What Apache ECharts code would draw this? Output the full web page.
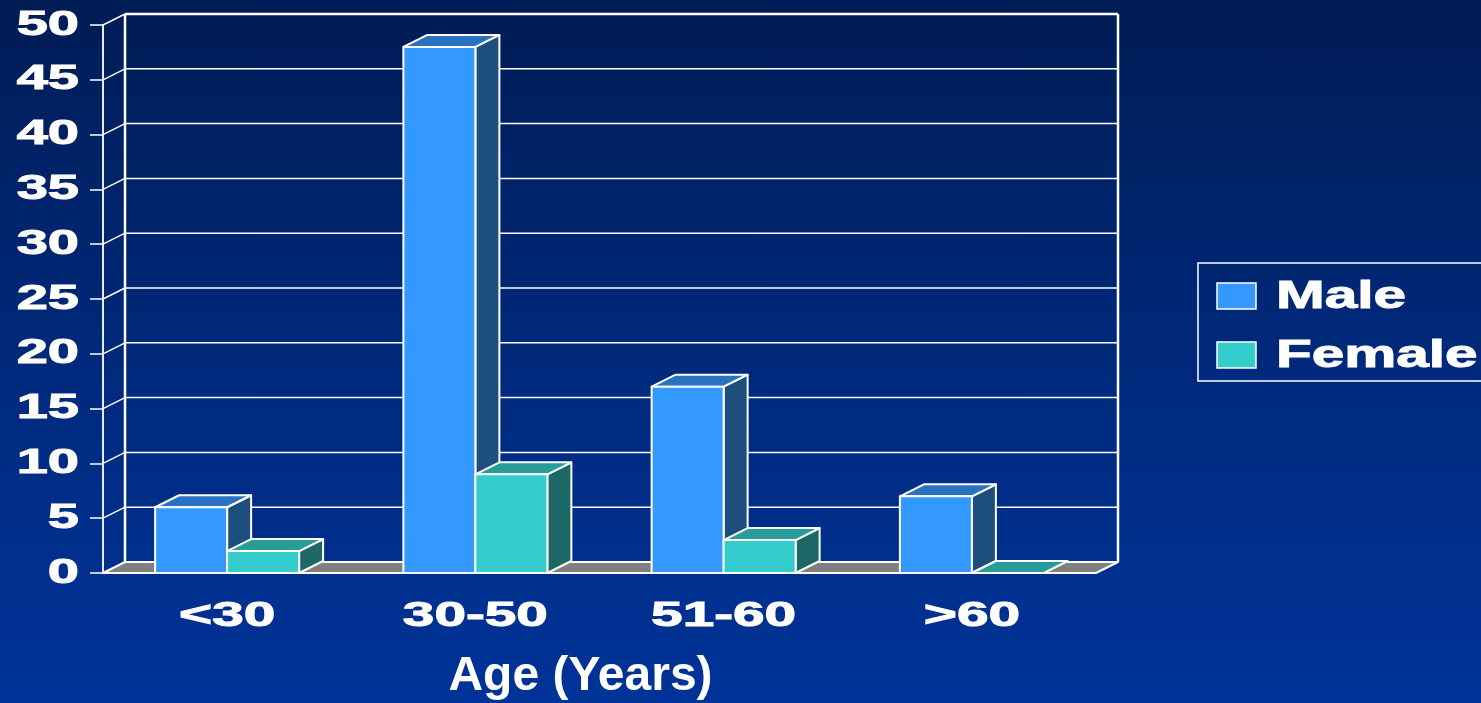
<!DOCTYPE html>
<html>
<head>
<meta charset="utf-8">
<script src="https://cdn.jsdelivr.net/npm/echarts@6/dist/echarts.min.js"></script>
<style>
  html, body { margin: 0; padding: 0; }
  body { background: linear-gradient(to bottom, #001c55 0%, #002a7e 55%, #003399 100%); }
  #chart { width: 1481px; height: 703px; }
</style>
</head>
<body>
<div id="chart"></div>
<script>
var categories = ['<30', '30-50', '51-60', '>60']
var male = [6, 48, 17, 7]
var female = [2, 9, 3, 0]
var yTicks = [0, 5, 10, 15, 20, 25, 30, 35, 40, 45, 50]
var seriesNames = ['Male', 'Female']

// 3d look: depth offset of the walls and of the bars (pixels)
var DX = 22, DY = -11
var BDX = 24, BDY = -12
var FF = '"Liberation Sans", Arial, sans-serif'

var faces = {
  Male: { front: '#3399ff', top: '#2a72c0', side: '#1e4e7e' },
  Female: { front: '#33cccc', top: '#279c98', side: '#1c6866' }
}
var edge = { stroke: '#ffffff', lineWidth: 2, lineJoin: 'round' }

// white text, a bit heavier than plain bold
function txt(s, size, align) {
  return {
    text: s,
    font: 'bold ' + size + 'px ' + FF,
    fill: '#ffffff',
    stroke: '#ffffff',
    lineWidth: 1,
    align: align,
    verticalAlign: 'middle'
  }
}

function wallItem(params, api) {
  var cs = params.coordSys
  var L = cs.x, R = cs.x + cs.width
  var v = api.value(1)
  var y = api.coord([0, v])[1]
  var y0 = api.coord([0, 0])[1]
  var kids = []
  if (v === 0) {
    kids.push({
      type: 'polygon',
      shape: { points: [[L, y], [R, y], [R + DX, y + DY], [L + DX, y + DY]] },
      style: Object.assign({ fill: '#808080' }, edge)
    })
  } else {
    kids.push({
      type: 'line',
      shape: { x1: L + DX, y1: y + DY, x2: R + DX, y2: y + DY },
      style: { stroke: '#ffffff', lineWidth: v === 50 ? 2.5 : 1.5 }
    })
    kids.push({
      type: 'line',
      shape: { x1: L, y1: y, x2: L + DX, y2: y + DY },
      style: { stroke: '#ffffff', lineWidth: 1.5 }
    })
  }
  if (v === 50) {
    kids.push({
      type: 'line',
      shape: { x1: L + DX, y1: y + DY, x2: L + DX, y2: y0 + DY },
      style: { stroke: '#ffffff', lineWidth: 2.5 }
    })
    kids.push({
      type: 'line',
      shape: { x1: R + DX, y1: y + DY, x2: R + DX, y2: y0 + DY },
      style: { stroke: '#ffffff', lineWidth: 2.5 }
    })
  }
  // tick label, stretched like the original slide
  kids.push({
    type: 'text',
    x: L - 24,
    y: y,
    scaleX: 1.6,
    style: txt(String(v), 35, 'right')
  })
  return { type: 'group', children: kids }
}

function barItem(name, offset) {
  return function (params, api) {
    var i = api.value(0), v = api.value(1)
    var base = api.coord([i, 0])
    var top = api.coord([i, v])
    var w = api.size([1, 0])[0] * 0.29
    var x0 = base[0] + offset * w, x1 = x0 + w
    var yb = base[1], yt = top[1]
    var c = faces[name]
    var kids = []
    if (v > 0) {
      kids.push({
        type: 'polygon',
        shape: { points: [[x1, yb], [x1, yt], [x1 + BDX, yt + BDY], [x1 + BDX, yb + BDY]] },
        style: Object.assign({ fill: c.side }, edge)
      })
    }
    kids.push({
      type: 'polygon',
      shape: { points: [[x0, yt], [x1, yt], [x1 + BDX, yt + BDY], [x0 + BDX, yt + BDY]] },
      style: Object.assign({ fill: c.top }, edge)
    })
    if (v > 0) {
      kids.push({
        type: 'rect',
        shape: { x: x0, y: yt, width: w, height: yb - yt },
        style: Object.assign({ fill: c.front }, edge)
      })
    }
    return { type: 'group', children: kids }
  }
}

function catLabel(params, api) {
  var i = api.value(0)
  var p = api.coord([i, 0])
  return {
    type: 'text',
    x: p[0],
    y: 616,
    scaleX: 1.62,
    style: txt(categories[i], 35, 'center')
  }
}

var legendItems = []
legendItems.push({
  type: 'rect',
  x: 1198, y: 263,
  shape: { width: 300, height: 118 },
  style: { fill: 'none', stroke: '#ffffff', lineWidth: 1.5 }
})
for (var k = 0; k < seriesNames.length; k++) {
  legendItems.push({
    type: 'rect',
    x: 1217, y: 283 + k * 59,
    shape: { width: 39, height: 26 },
    style: { fill: faces[seriesNames[k]].front, stroke: '#ffffff', lineWidth: 1.5 }
  })
  legendItems.push({
    type: 'text',
    x: 1276, y: 297 + k * 59,
    scaleX: 1.5,
    style: txt(seriesNames[k], 39, 'left')
  })
}

var myChart = echarts.init(document.getElementById('chart'))
var option = {
  backgroundColor: 'transparent',
  animation: false,
  grid: { left: 103, right: 385, top: 25, bottom: 130, outerBoundsMode: 'none', containLabel: false },
  xAxis: {
    type: 'category',
    data: categories,
    name: 'Age (Years)',
    nameLocation: 'middle',
    nameGap: 80,
    nameTextStyle: { color: '#ffffff', fontSize: 48, fontWeight: 'bold', fontFamily: FF, padding: [0, 38, 0, 0] },
    axisLine: { lineStyle: { color: '#ffffff', width: 2 } },
    axisTick: { length: 10, lineStyle: { color: '#ffffff', width: 2 } },
    axisLabel: { show: false },
    splitLine: { show: false }
  },
  yAxis: {
    type: 'value',
    min: 0,
    max: 50,
    interval: 5,
    axisLine: { show: true, lineStyle: { color: '#e8e8f0', width: 2 } },
    axisTick: { show: true, length: 13, lineStyle: { color: '#ffffff', width: 1.5 } },
    axisLabel: { show: false },
    splitLine: { show: false }
  },
  graphic: legendItems,
  series: [
    {
      type: 'custom',
      name: 'walls',
      z: 1,
      renderItem: wallItem,
      data: yTicks.map(function (v) { return [0, v] })
    },
    {
      type: 'custom',
      name: 'labels',
      z: 1,
      renderItem: catLabel,
      data: categories.map(function (c, i) { return [i, 0] })
    },
    {
      type: 'custom',
      name: seriesNames[0],
      z: 3,
      renderItem: barItem('Male', -1),
      data: male.map(function (v, i) { return [i, v] })
    },
    {
      type: 'custom',
      name: seriesNames[1],
      z: 4,
      renderItem: barItem('Female', 0),
      data: female.map(function (v, i) { return [i, v] })
    }
  ]
}
myChart.setOption(option)
</script>
</body>
</html>
